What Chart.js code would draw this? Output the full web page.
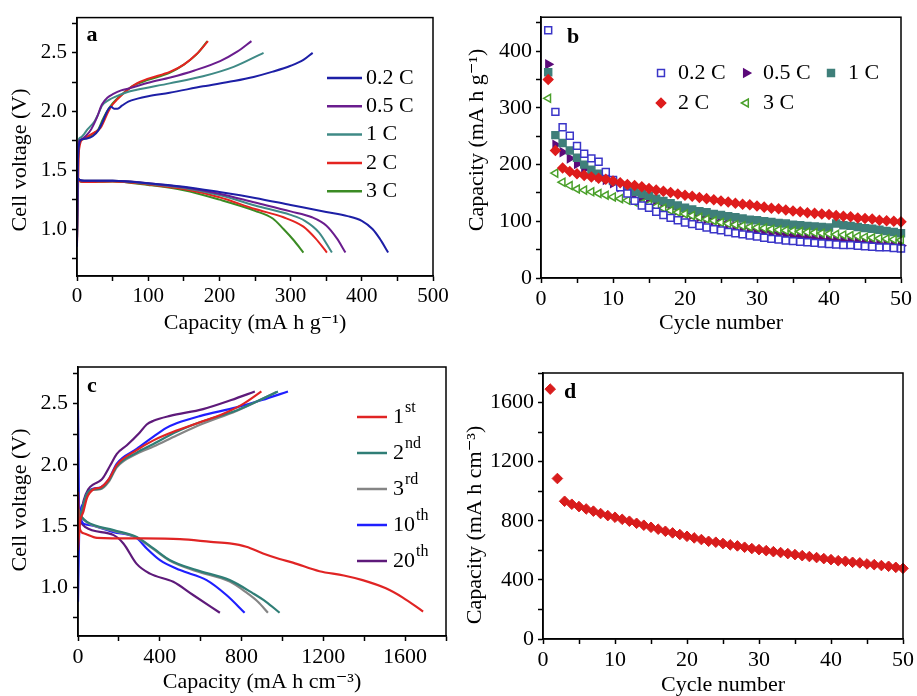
<!DOCTYPE html>
<html>
<head>
<meta charset="utf-8">
<script src="https://cdn.jsdelivr.net/npm/chart.js@4.4.1/dist/chart.umd.min.js"></script>
<style>
  html, body { margin: 0; padding: 0; background: #fff; }
  #fig { position: relative; width: 917px; height: 696px; overflow: hidden; background: #fff; }
  #fig canvas { position: absolute; }
</style>
</head>
<body>
<div id="fig">
  <canvas id="chartA" width="460" height="340" style="left:0;top:0"></canvas>
  <canvas id="chartB" width="457" height="340" style="left:460px;top:0"></canvas>
  <canvas id="chartC" width="460" height="356" style="left:0;top:340px"></canvas>
  <canvas id="chartD" width="457" height="356" style="left:460px;top:340px"></canvas>
</div>
<script>
// (a) charge / discharge profiles at different C rates, [capacity mA h g-1, voltage V]
const rateLabels = ["0.2 C", "0.5 C", "1 C", "2 C", "3 C"];
const rateColors = ["#1d1fa6", "#6a1d8e", "#3f8a86", "#e42420", "#3b8b24"];

const chargeA = [
  [[0, 0.85], [1, 1.5], [3, 1.72], [6, 1.76], [14, 1.77], [22, 1.79], [30, 1.84], [35, 1.9], [40, 1.97], [44, 2.02], [48, 2.04], [52, 2.025], [57, 2.025], [63, 2.05], [72, 2.085], [85, 2.11], [100, 2.13], [130, 2.16], [177, 2.215], [220, 2.26], [248, 2.295], [275, 2.34], [300, 2.39], [318, 2.44], [331, 2.5]],
  [[0, 0.9], [2, 1.72], [5, 1.76], [12, 1.79], [20, 1.85], [28, 1.95], [35, 2.06], [43, 2.12], [51, 2.15], [62, 2.18], [75, 2.2], [100, 2.245], [131, 2.29], [165, 2.35], [201, 2.43], [225, 2.51], [245, 2.6]],
  [[0, 0.9], [2, 1.75], [5, 1.78], [15, 1.85], [25, 1.92], [30, 1.98], [35, 2.05], [45, 2.1], [55, 2.13], [70, 2.165], [84, 2.185], [130, 2.24], [177, 2.3], [220, 2.38], [262, 2.5]],
  [[0, 0.86], [3, 1.68], [9, 1.77], [24, 1.82], [33, 1.86], [38, 1.92], [44, 2.0], [50, 2.06], [56, 2.1], [70, 2.18], [84, 2.24], [100, 2.28], [131, 2.34], [150, 2.4], [168, 2.49], [184, 2.6]],
  [[0, 0.9], [2, 1.72], [6, 1.76], [20, 1.8], [30, 1.85], [36, 1.93], [42, 2.0], [50, 2.07], [62, 2.14], [79, 2.22], [100, 2.27], [130, 2.33], [150, 2.4], [170, 2.5], [183, 2.6]],
];

const dischargeA = [
  [[0, 1.44], [3, 1.42], [10, 1.41], [50, 1.41], [100, 1.39], [150, 1.36], [200, 1.315], [250, 1.265], [300, 1.205], [350, 1.145], [380, 1.11], [400, 1.07], [415, 1.0], [425, 0.92], [437, 0.8]],
  [[0, 1.44], [3, 1.42], [10, 1.41], [50, 1.41], [100, 1.39], [150, 1.355], [200, 1.3], [250, 1.225], [300, 1.15], [330, 1.1], [350, 1.03], [365, 0.92], [377, 0.8]],
  [[0, 1.45], [3, 1.42], [10, 1.41], [50, 1.41], [100, 1.385], [150, 1.35], [200, 1.29], [250, 1.2], [300, 1.12], [320, 1.07], [340, 0.97], [358, 0.8]],
  [[0, 1.44], [3, 1.41], [10, 1.4], [50, 1.405], [100, 1.38], [150, 1.34], [200, 1.27], [250, 1.17], [290, 1.1], [318, 1.02], [335, 0.92], [351, 0.8]],
  [[0, 1.43], [3, 1.41], [10, 1.4], [50, 1.405], [100, 1.375], [150, 1.33], [200, 1.25], [250, 1.155], [275, 1.09], [290, 1.0], [305, 0.9], [318, 0.8]],
];

// (b) rate capability, discharge capacity per cycle (mA h g-1)
const cycles = Array.from({ length: 50 }, (_, i) => i + 1);
const cap02C = [437, 293, 266, 251, 233, 219, 211, 205, 187, 173, 160, 149, 136, 128, 124, 117, 111, 106, 102, 98, 95, 92, 89, 86, 84, 81, 79, 77, 75, 73, 71, 69, 68, 66, 65, 64, 63, 62, 61, 60, 59, 58, 58, 57, 56, 55, 54, 54, 53, 52];
const cap05C = [377, 235, 222, 211, 201, 192, 185, 179, 173, 167, 160, 154, 148, 142, 137, 132, 127, 123, 119, 115, 111, 107, 104, 101, 98, 95, 92, 89, 86, 84, 82, 80, 78, 76, 74, 72, 71, 69, 68, 67, 66, 65, 64, 63, 62, 61, 60, 59, 58, 57];
const cap1C = [363, 252, 238, 225, 212, 200, 191, 184, 177, 171, 163, 156, 152, 148, 145, 140, 136, 132, 128, 124, 121, 118, 116, 113, 111, 109, 107, 105, 103, 102, 100, 99, 97, 96, 94, 93, 92, 91, 90, 89, 96, 93, 92, 90, 88, 87, 85, 83, 81, 79];
const cap2C = [350, 225, 194, 188, 184, 181, 178, 176, 174, 171, 168, 165, 163, 161, 158, 155, 153, 151, 148, 146, 144, 142, 140, 138, 136, 134, 132, 130, 129, 127, 125, 123, 122, 120, 118, 117, 115, 114, 113, 112, 110, 109, 108, 106, 105, 104, 102, 101, 100, 99];
const cap3C = [317, 185, 169, 163, 157, 155, 152, 149, 146, 143, 140, 137, 134, 132, 130, 126, 123, 119, 116, 113, 110, 107, 104, 101, 98, 96, 94, 92, 90, 89, 88, 86, 85, 84, 83, 82, 81, 80, 79, 78, 77, 76, 75, 74, 72, 71, 70, 69, 68, 67];

// (c) profiles of selected cycles, [capacity mA h cm-3, voltage V]
const cycleNames = ["1st", "2nd", "3rd", "10th", "20th"];
const cycleColors = ["#e02424", "#2f7e76", "#858585", "#1f1fff", "#5e1a7a"];

const chargeC = [
  [[0, 1.3], [8, 1.5], [27, 1.62], [44, 1.73], [76, 1.8], [110, 1.815], [150, 1.88], [190, 2.0], [287, 2.12], [369, 2.2], [482, 2.28], [600, 2.35], [700, 2.41], [800, 2.49], [897, 2.6]],
  [[0, 1.5], [15, 1.6], [44, 1.765], [76, 1.8], [110, 1.805], [150, 1.87], [190, 1.99], [287, 2.1], [369, 2.17], [482, 2.27], [600, 2.35], [775, 2.445], [978, 2.6]],
  [[0, 1.5], [15, 1.6], [44, 1.76], [76, 1.795], [110, 1.8], [150, 1.86], [190, 1.98], [287, 2.09], [369, 2.15], [482, 2.24], [600, 2.33], [775, 2.44], [970, 2.595]],
  [[0, 0.88], [5, 1.4], [12, 1.62], [27, 1.68], [44, 1.765], [76, 1.806], [110, 1.815], [150, 1.88], [190, 2.01], [287, 2.13], [369, 2.23], [430, 2.3], [482, 2.34], [600, 2.4], [775, 2.47], [900, 2.53], [1027, 2.6]],
  [[0, 1.45], [15, 1.6], [28, 1.71], [50, 1.8], [76, 1.84], [109, 1.87], [125, 1.9], [158, 1.996], [190, 2.09], [239, 2.16], [300, 2.26], [336, 2.33], [369, 2.36], [450, 2.4], [612, 2.456], [750, 2.53], [865, 2.6]],
];

const dischargeC = [
  [[0, 1.78], [5, 1.5], [27, 1.44], [93, 1.403], [300, 1.398], [499, 1.392], [650, 1.37], [742, 1.357], [823, 1.33], [905, 1.275], [986, 1.23], [1051, 1.2], [1181, 1.13], [1300, 1.095], [1392, 1.057], [1506, 0.99], [1587, 0.916], [1688, 0.8]],
  [[0, 1.64], [15, 1.58], [44, 1.533], [174, 1.466], [287, 1.41], [369, 1.316], [450, 1.22], [580, 1.139], [742, 1.057], [856, 0.949], [920, 0.88], [986, 0.79]],
  [[0, 1.64], [15, 1.58], [44, 1.53], [174, 1.46], [287, 1.405], [369, 1.31], [450, 1.215], [580, 1.13], [742, 1.045], [820, 0.96], [880, 0.88], [929, 0.79]],
  [[0, 2.45], [6, 1.6], [44, 1.51], [174, 1.45], [287, 1.4], [336, 1.316], [401, 1.22], [499, 1.139], [629, 1.057], [726, 0.935], [815, 0.79]],
  [[0, 1.62], [10, 1.55], [36, 1.49], [174, 1.425], [222, 1.357], [287, 1.19], [352, 1.11], [466, 1.043], [563, 0.935], [694, 0.79]],
];

// (d) volumetric capacity per cycle (mA h cm-3)
const volCap = [1691, 1086, 932, 912, 896, 880, 865, 849, 835, 824, 810, 797, 783, 770, 756, 743, 729, 718, 707, 695, 684, 673, 661, 655, 646, 637, 630, 621, 612, 605, 598, 591, 585, 578, 571, 564, 558, 551, 544, 537, 530, 526, 519, 515, 508, 503, 497, 492, 485, 478];

// axis ticks (every tick mark) and the ones that carry a label
const voltTicks = [0.75, 1, 1.25, 1.5, 1.75, 2, 2.25, 2.5, 2.75];
const voltLabels = [1, 1.5, 2, 2.5];
const gravTicks = [0, 50, 100, 150, 200, 250, 300, 350, 400, 450, 500];
const gravLabels = [0, 100, 200, 300, 400, 500];
const cycleTicks = [0, 5, 10, 15, 20, 25, 30, 35, 40, 45, 50];
const cycleLabels = [0, 10, 20, 30, 40, 50];
const rateCapTicks = [0, 50, 100, 150, 200, 250, 300, 350, 400, 450];
const rateCapLabels = [0, 100, 200, 300, 400];
const volTicks = [0, 200, 400, 600, 800, 1000, 1200, 1400, 1600, 1800];
const volLabels = [0, 400, 800, 1200, 1600];

const serif = '"Liberation Serif", "Times New Roman", "DejaVu Serif", serif';

function xy(curve) {
  return curve.map(([x, y]) => ({ x, y }));
}

function lineSet(curve, color, width) {
  return {
    data: xy(curve),
    borderColor: color,
    borderWidth: width,
    pointRadius: 0,
    fill: false,
    cubicInterpolationMode: "monotone",
  };
}

function scale(o) {
  return {
    type: "linear",
    min: o.min,
    max: o.max,
    afterBuildTicks: (s) => {
      s.ticks = o.ticks.map((v) => ({ value: v }));
    },
    afterFit: (s) => {
      if (s.isHorizontal()) s.height = o.size;
      else s.width = o.size;
    },
    grid: { drawOnChartArea: false, drawTicks: true, tickLength: 5, tickWidth: 1.5, tickColor: "#000" },
    border: { display: true, color: "#000", width: 1.5 },
    ticks: {
      autoSkip: false,
      maxRotation: 0,
      padding: o.tickPad,
      color: "#000",
      font: { family: serif, size: o.tickSize },
      callback: (v) => (o.labels.includes(v) ? (o.fmt ? o.fmt(v) : String(v)) : ""),
    },
    title: {
      display: !!o.title,
      text: o.title || "",
      color: "#000",
      font: { family: serif, size: 22, lineHeight: o.lineHeight || 1.2 },
      padding: o.titlePad,
    },
  };
}

// plot box on all four sides
const frame = {
  id: "frame",
  afterDraw(chart) {
    const { ctx, chartArea: a } = chart;
    ctx.save();
    ctx.strokeStyle = "#000";
    ctx.lineWidth = 1.5;
    ctx.strokeRect(a.left, a.top, a.right - a.left, a.bottom - a.top);
    ctx.restore();
  },
};

function tag(letter, x, y) {
  return {
    id: "tag",
    afterDraw(chart) {
      const ctx = chart.ctx;
      ctx.save();
      ctx.font = "bold 22px " + serif;
      ctx.fillStyle = "#000";
      ctx.textAlign = "center";
      ctx.textBaseline = "middle";
      ctx.fillText(letter, x, y);
      ctx.restore();
    },
  };
}

// rotated y-axis caption, centred on (x, y)
function yCaption(text, x, y) {
  return {
    id: "yCaption",
    afterDraw(chart) {
      const ctx = chart.ctx;
      ctx.save();
      ctx.translate(x, y);
      ctx.rotate(-Math.PI / 2);
      ctx.font = "22px " + serif;
      ctx.fillStyle = "#000";
      ctx.textAlign = "center";
      ctx.textBaseline = "middle";
      ctx.fillText(text, 0, 0);
      ctx.restore();
    },
  };
}

// label text, with ordinal suffixes raised ("1st" -> 1 + superscript st)
function richText(ctx, label, x, y) {
  const m = label.match(/^(\d+)([a-z]+)$/);
  ctx.font = "22px " + serif;
  ctx.textAlign = "left";
  ctx.textBaseline = "middle";
  ctx.fillStyle = "#000";
  if (!m) {
    ctx.fillText(label, x, y);
    return;
  }
  ctx.fillText(m[1], x, y);
  const w = ctx.measureText(m[1]).width;
  ctx.font = "16px " + serif;
  ctx.fillText(m[2], x + w + 1, y - 9);
}

function key(items) {
  return {
    id: "key",
    afterDraw(chart) {
      const ctx = chart.ctx;
      ctx.save();
      items.forEach((it) => {
        ctx.strokeStyle = it.color;
        ctx.fillStyle = it.fill || it.color;
        if (it.marker) {
          Chart.helpers.drawPoint(ctx, { pointStyle: it.marker, radius: it.radius, rotation: it.rotation || 0, borderWidth: 1.5 }, it.x, it.y);
        } else {
          ctx.lineWidth = 2.5;
          ctx.beginPath();
          ctx.moveTo(it.x, it.y);
          ctx.lineTo(it.x + it.len, it.y);
          ctx.stroke();
        }
        richText(ctx, it.label, it.tx, it.y);
      });
      ctx.restore();
    },
  };
}

const base = {
  responsive: false,
  animation: false,
  events: [],
  plugins: { legend: { display: false }, tooltip: { enabled: false } },
};

// ---- (a)
const setsA = [];
rateLabels.forEach((r, i) => {
  setsA.push(lineSet(chargeA[i], rateColors[i], 2));
  setsA.push(lineSet(dischargeA[i], rateColors[i], 2));
});

new Chart(document.getElementById("chartA"), {
  type: "line",
  data: { datasets: setsA },
  options: {
    ...base,
    layout: { padding: { top: 14, right: 27, left: 0, bottom: 0 } },
    scales: {
      x: scale({ min: 0, max: 500, ticks: gravTicks, labels: gravLabels, size: 64, tickPad: 3, tickSize: 21, title: "Capacity (mA h g\u207B\u00B9)", titlePad: { bottom: 4 } }),
      y: scale({ min: 0.6, max: 2.8, ticks: voltTicks, labels: voltLabels, fmt: (v) => v.toFixed(1), size: 77, tickPad: 5, tickSize: 21 }),
    },
  },
  plugins: [
    frame,
    tag("a", 92, 35),
    yCaption("Cell voltage (V)", 20, 160),
    key(rateLabels.map((r, i) => ({ label: r, color: rateColors[i], x: 327, len: 35, tx: 366, y: 78 + i * 28.3 }))),
  ],
});

// ---- (b)
const rateSeries = [cap02C, cap05C, cap1C, cap2C, cap3C];
const rateMarks = [
  { style: "rect", radius: 4.9, rotation: 0, color: "#3a35c8", fill: "#fff", order: 1 },
  { style: "triangle", radius: 4.6, rotation: 90, color: "#5c0a7a", fill: "#5c0a7a", order: 4 },
  { style: "rect", radius: 4.9, rotation: 0, color: "#3f7f7a", fill: "#3f7f7a", order: 3 },
  { style: "rectRot", radius: 4.7, rotation: 0, color: "#de1c1c", fill: "#de1c1c", order: 0 },
  { style: "triangle", radius: 4.6, rotation: -90, color: "#4aa02a", fill: "#fff", order: 2 },
];

new Chart(document.getElementById("chartB"), {
  type: "scatter",
  data: {
    datasets: rateSeries.map((vals, i) => ({
      data: vals.map((v, k) => ({ x: cycles[k], y: v })),
      pointStyle: rateMarks[i].style,
      pointRadius: rateMarks[i].radius,
      rotation: rateMarks[i].rotation,
      borderColor: rateMarks[i].color,
      backgroundColor: rateMarks[i].fill,
      borderWidth: 1.5,
      order: rateMarks[i].order,
    })),
  },
  options: {
    ...base,
    clip: false,
    layout: { padding: { top: 15, right: 16, left: 0, bottom: 0 } },
    scales: {
      x: scale({ min: 0, max: 50, ticks: cycleTicks, labels: cycleLabels, size: 62, tickPad: 3, tickSize: 22, title: "Cycle number", titlePad: { bottom: 4 } }),
      y: scale({ min: 0, max: 460, ticks: rateCapTicks, labels: rateCapLabels, size: 81, tickPad: 4, tickSize: 22 }),
    },
  },
  plugins: [
    frame,
    tag("b", 113, 37),
    yCaption("Capacity (mA h g\u207B\u00B9)", 17, 140),
    key(rateLabels.map((r, i) => {
      const col = i < 3 ? i : i - 3;
      const row = i < 3 ? 0 : 1;
      return {
        label: r, color: rateMarks[i].color, fill: rateMarks[i].fill,
        marker: rateMarks[i].style, radius: rateMarks[i].radius, rotation: rateMarks[i].rotation,
        x: 201 + col * 85, tx: 218 + col * 85, y: 73 + row * 30,
      };
    })),
  ],
});

// ---- (c)
const setsC = [];
cycleNames.forEach((n, i) => {
  setsC.push(lineSet(chargeC[i], cycleColors[i], 2.2));
  setsC.push(lineSet(dischargeC[i], cycleColors[i], 2.2));
});

new Chart(document.getElementById("chartC"), {
  type: "line",
  data: { datasets: setsC },
  options: {
    ...base,
    layout: { padding: { top: 27, right: 14, left: 0, bottom: 0 } },
    scales: {
      x: scale({ min: 0, max: 1800, ticks: volTicks, labels: volLabels, size: 60, tickPad: 3, tickSize: 22, title: "Capacity (mA h cm\u207B\u00B3)", titlePad: { bottom: 1 } }),
      y: scale({ min: 0.6, max: 2.8, ticks: voltTicks, labels: voltLabels, fmt: (v) => v.toFixed(1), size: 78, tickPad: 5, tickSize: 22 }),
    },
  },
  plugins: [
    frame,
    tag("c", 92, 46),
    yCaption("Cell voltage (V)", 20, 160),
    key(cycleNames.map((n, i) => ({ label: n, color: cycleColors[i], x: 357, len: 30, tx: 393, y: 77 + i * 36 }))),
  ],
});

// ---- (d)
new Chart(document.getElementById("chartD"), {
  type: "scatter",
  data: {
    datasets: [{
      data: volCap.map((v, k) => ({ x: cycles[k], y: v })),
      pointStyle: "rectRot",
      pointRadius: 5.3,
      borderColor: "#d81c1c",
      backgroundColor: "#d81c1c",
      borderWidth: 1,
    }],
  },
  options: {
    ...base,
    clip: false,
    layout: { padding: { top: 33, right: 11, left: 0, bottom: 0 } },
    scales: {
      x: scale({ min: 0, max: 50, ticks: cycleTicks, labels: cycleLabels, size: 57, tickPad: 3, tickSize: 22, title: "Cycle number", titlePad: { bottom: 0 }, lineHeight: 1.0 }),
      y: scale({ min: 0, max: 1800, ticks: volTicks, labels: volLabels, size: 83, tickPad: 4, tickSize: 22 }),
    },
  },
  plugins: [frame, tag("d", 110, 52), yCaption("Capacity (mA h cm\u207B\u00B3)", 15, 185)],
});
</script>
</body>
</html>
